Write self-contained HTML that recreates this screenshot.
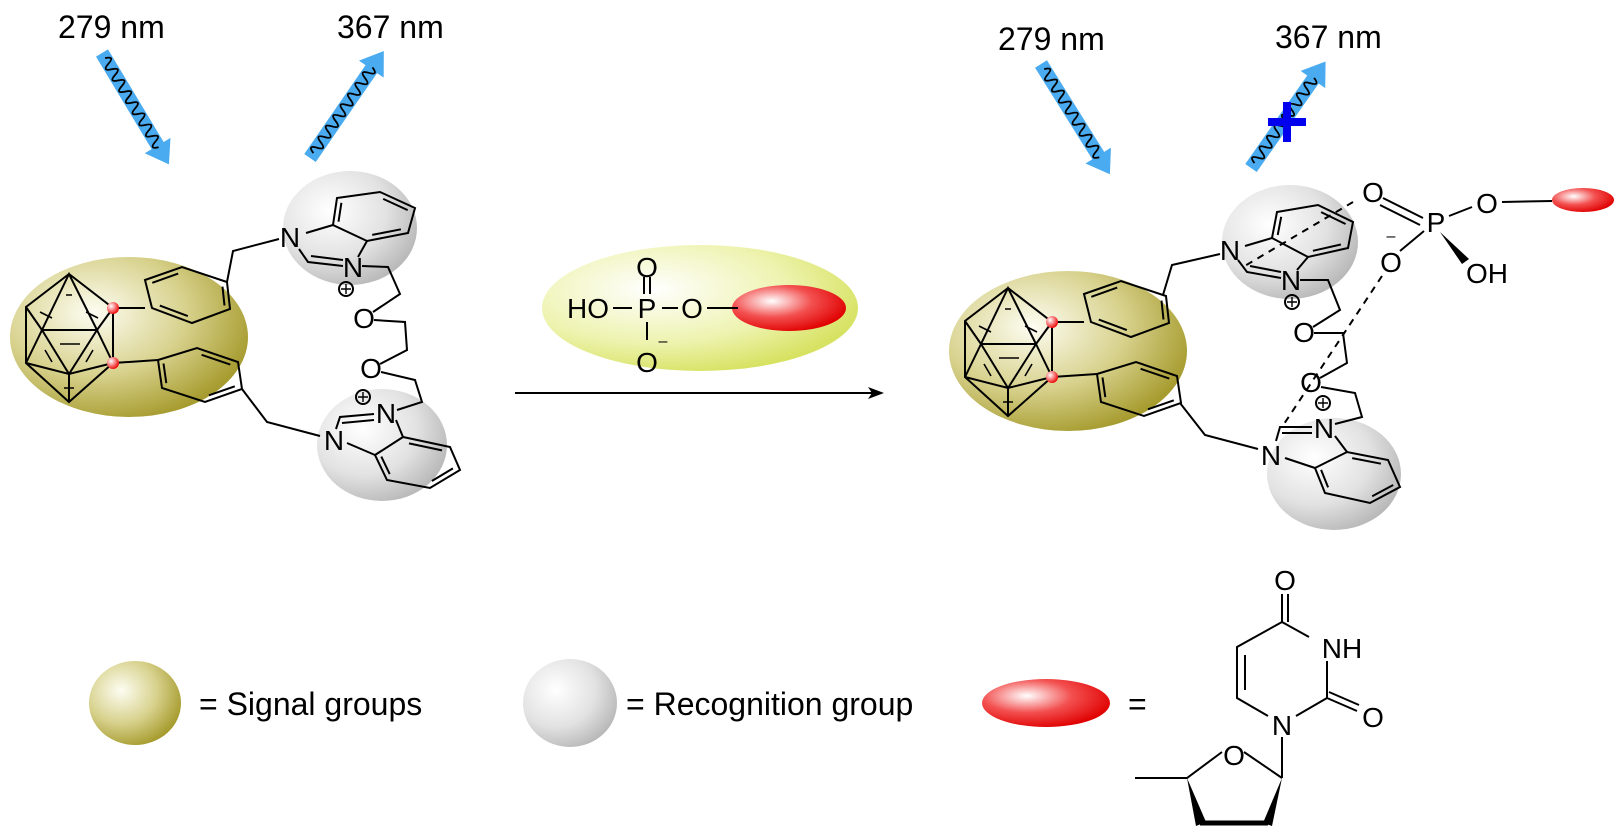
<!DOCTYPE html>
<html><head><meta charset="utf-8"><style>
html,body{margin:0;padding:0;background:#fff;}
svg{display:block;font-family:"Liberation Sans",Arial,sans-serif;}
</style></head><body>
<svg width="1620" height="834" viewBox="0 0 1620 834" xmlns="http://www.w3.org/2000/svg">
<defs>
<radialGradient id="gOl" cx="35%" cy="35%" r="70%"><stop offset="0" stop-color="#fdfdf2"/><stop offset="0.55" stop-color="#d8d28e"/><stop offset="1" stop-color="#a69b2e"/></radialGradient>
<radialGradient id="gGr" cx="35%" cy="35%" r="70%"><stop offset="0" stop-color="#ffffff"/><stop offset="0.6" stop-color="#e2e2e2"/><stop offset="1" stop-color="#b9b9b9"/></radialGradient>
<radialGradient id="gRd" cx="35%" cy="35%" r="70%"><stop offset="0" stop-color="#ffffff"/><stop offset="0.5" stop-color="#f35050"/><stop offset="1" stop-color="#e00000"/></radialGradient>
<radialGradient id="gYg" cx="35%" cy="35%" r="70%"><stop offset="0" stop-color="#ffffff"/><stop offset="0.6" stop-color="#eef3b0"/><stop offset="1" stop-color="#d6e260"/></radialGradient>
<radialGradient id="gDot" cx="35%" cy="35%" r="70%"><stop offset="0" stop-color="#fff"/><stop offset="1" stop-color="#e00"/></radialGradient>
<g id="carb" stroke="#000" stroke-width="2" fill="none">
 <ellipse cx="129" cy="337" rx="119" ry="80" fill="url(#gOl)" stroke="none"/>
 <path d="M69,274L26,307L26,363L69,402L113,363L113,308Z M69,274L42,330L97,330Z M26,307L42,330L26,363 M113,308L97,330L113,363 M42,330L69,374L97,330 M26,363L69,374L113,363 M69,374L69,402 M42,330L26,363"/>
 <path d="M60,344L80,344 M66,295L72,295 M40,312L52,318 M98,318L86,312 M45,350L52,362 M93,350L86,362 M64,388L74,388" stroke-width="1.6"/>
 <path d="M145,280L182,267L227,282L230,309L192,323L152,308Z"/>
 <path d="M152.3,282.8L178.2,273.6 M222.5,286.6L224.5,305.5 M187.8,316.1L159.8,305.6"/>
 <path d="M158,360L197,348L238,362L242,389L205,402L162,388Z"/>
 <path d="M201.6,354.8L230.3,364.6 M234.8,386.3L208.9,395.3 M166.3,383.1L163.5,363.5"/>
 <path d="M113,308L145,308 M113,363L158,360"/>
 <circle cx="113" cy="308" r="6" fill="url(#gDot)" stroke="none"/>
 <circle cx="113" cy="363" r="6" fill="url(#gDot)" stroke="none"/>
</g>
<g id="ar1"><polygon points="0,-7 108,-7 108,-15 130,0 108,15 108,7 0,7" fill="#4aabf0"/>
<path d="M6,0 q3.25,-10 6.5,0 t6.5,0 t6.5,0 t6.5,0 t6.5,0 t6.5,0 t6.5,0 t6.5,0 t6.5,0 t6.5,0 t6.5,0 t6.5,0 t6.5,0 t6.5,0 t6.5,0 t6.5,0" fill="none" stroke="#000" stroke-width="1.8"/></g>
</defs>

<g font-size="32" fill="#000">
<text x="58" y="38">279 nm</text>
<text x="337" y="38">367 nm</text>
<text x="998" y="50">279 nm</text>
<text x="1275" y="48">367 nm</text>
</g>
<use href="#ar1" transform="translate(102,53) rotate(59)"/>
<use href="#ar1" transform="translate(310,158) rotate(-55.4)"/>
<use href="#ar1" transform="translate(1041,64) rotate(58)"/>
<use href="#ar1" transform="translate(1251,168) rotate(-55)"/>
<path d="M1268,122L1306,122 M1287,102L1287,142" stroke="#0000ee" stroke-width="8"/>

<!-- left molecule -->
<use href="#carb"/>
<ellipse cx="350" cy="228" rx="67" ry="57" fill="url(#gGr)"/>
<ellipse cx="382" cy="445" rx="65" ry="56" fill="url(#gGr)"/>
<g stroke="#000" stroke-width="2" fill="none">
 <path d="M227,282L233,251L279,239"/>
 <path d="M337,198L380,192L415,208L408,233L367,241L333,225Z"/>
 <path d="M338.5,221.7L341.4,202.8 M383.2,198.9L407.7,210.1 M400.9,229.3L372.2,234.9"/>
 <path d="M306,233L333,225 M299,249L308,262L343,266 M311,256L343,260 M358,257L367,241"/>
 <path d="M362,266L388,267L400,294L373,312 M374,320L405,322L407,350L380,364 M381,372L415,380L422,402L397,410"/>
 <path d="M242,389L267,422L320,436"/>
 <path d="M375,455L403,437L450,447L460,470L430,488L387,480Z"/>
 <path d="M409,443.4L442,450.4 M452.9,468.4L431.9,481 M389.7,474.1L381.3,456.6"/>
 <path d="M347,443L375,455 M336,429L340,417L374,414 M342,423L374,420 M396,420L403,437"/>
 <circle cx="346" cy="289" r="7"/><circle cx="363" cy="397" r="7"/>
 <path d="M341,289h10M346,284v10M358,397h10M363,392v10" stroke-width="1.4"/>
</g>
<g font-size="28" text-anchor="middle" fill="#000">
 <text x="290" y="247">N</text><text x="353" y="277">N</text>
 <text x="364" y="328">O</text><text x="371" y="378">O</text>
 <text x="386" y="423">N</text><text x="334" y="450">N</text>
</g>

<!-- reagent -->
<ellipse cx="700" cy="308" rx="158" ry="63" fill="url(#gYg)"/>
<ellipse cx="789" cy="308" rx="57" ry="23" fill="url(#gRd)"/>
<g stroke="#000" stroke-width="2" fill="none">
 <path d="M613,308L632,308 M662,308L678,308 M707,308L738,308 M644,277L644,294 M650,277L650,294 M647,322L647,340"/>
 <path d="M515,393L872,393"/>
</g>
<polygon points="884,393 868,387 872,393 868,399" fill="#000"/>
<g font-size="28" fill="#000" text-anchor="middle">
 <text x="588" y="318">HO</text><text x="647" y="318">P</text><text x="692" y="318">O</text>
 <text x="647" y="277">O</text><text x="647" y="372">O</text>
 <text x="663" y="346" font-size="16">–</text>
</g>

<!-- right molecule -->
<g transform="translate(939,14)"><use href="#carb"/></g>
<ellipse cx="1290" cy="242" rx="68" ry="57" fill="url(#gGr)"/>
<ellipse cx="1334" cy="474" rx="67" ry="56" fill="url(#gGr)"/>
<ellipse cx="1583" cy="200" rx="31" ry="12" fill="url(#gRd)"/>
<g stroke="#000" stroke-width="2" fill="none">
 <path d="M1163,295L1172,265L1220,254"/>
 <path d="M1277,212L1318,205L1353,222L1348,248L1308,257L1272,238Z"/>
 <path d="M1277.7,235L1281.2,216.8 M1321.1,212.1L1345.6,224 M1340.9,244.5L1312.9,250.8"/>
 <path d="M1245,246L1272,238 M1238,260L1247,272L1281,278 M1250,266L1281,272 M1297,270L1308,257"/>
 <path d="M1300,280L1328,280L1340,310L1313,327 M1314,333L1343,333L1347,363L1320,378 M1321,387L1355,393L1362,417L1335,424"/>
 <path d="M1180,403L1205,435L1258,449"/>
 <path d="M1315,468L1347,452L1388,460L1400,487L1370,503L1325,493Z"/>
 <path d="M1352.2,458.1L1380.9,463.7 M1393.2,485L1372.2,496.2 M1328.1,487.4L1321.1,469.9"/>
 <path d="M1285,458L1315,468 M1276,441L1280,427L1312,427 M1282,433L1312,433 M1335,436L1347,452"/>
 <circle cx="1292" cy="302" r="7"/><circle cx="1323" cy="403" r="7"/>
 <path d="M1287,302h10M1292,297v10M1318,403h10M1323,398v10" stroke-width="1.4"/>
 <path d="M1383,198L1423,218 M1380,205L1420,225 M1449,216L1472,207 M1502,202L1552,201 M1424,231L1400,251"/>
 <path d="M1353,202L1243,267 M1382,276L1282,427" stroke-dasharray="7,6"/>
</g>
<polygon points="1440,232 1462,264 1469,259" fill="#000"/>
<g font-size="28" text-anchor="middle" fill="#000">
 <text x="1230" y="260">N</text><text x="1291" y="290">N</text>
 <text x="1304" y="342">O</text><text x="1311" y="392">O</text>
 <text x="1324" y="438">N</text><text x="1271" y="465">N</text>
 <text x="1373" y="202">O</text><text x="1436" y="232">P</text><text x="1487" y="213">O</text>
 <text x="1391" y="272">O</text><text x="1391" y="241" font-size="16">–</text>
 <text x="1487" y="283">OH</text>
</g>

<!-- legend -->
<ellipse cx="135" cy="703" rx="46" ry="42" fill="url(#gOl)"/>
<ellipse cx="570" cy="703" rx="47" ry="44" fill="url(#gGr)"/>
<ellipse cx="1046" cy="703" rx="64" ry="24" fill="url(#gRd)"/>
<g font-size="32" fill="#000">
 <text x="199" y="715">= Signal groups</text>
 <text x="626" y="715">= Recognition group</text>
 <text x="1128" y="715">=</text>
</g>
<g stroke="#000" stroke-width="2" fill="none">
 <path d="M1282,594L1282,622 M1288,594L1288,622 M1282,622L1309,637 M1327,661L1327,698 M1327,698L1357,711 M1329,692L1359,705 M1327,698L1296,716 M1268,716L1237,698L1237,647L1282,622 M1245,690L1245,655 M1282,737L1282,778 M1222,752L1187,778L1135,778 M1244,752L1282,778"/>
</g>
<polygon points="1187,778 1196,826 1206,822" fill="#000"/>
<polygon points="1282,778 1263,823 1272,826" fill="#000"/>
<path d="M1200,823L1268,823" stroke="#000" stroke-width="5"/>
<g font-size="28" fill="#000" text-anchor="middle">
 <text x="1285" y="590">O</text><text x="1342" y="658">NH</text>
 <text x="1373" y="727">O</text><text x="1282" y="735">N</text><text x="1234" y="765">O</text>
</g>
</svg>
</body></html>
